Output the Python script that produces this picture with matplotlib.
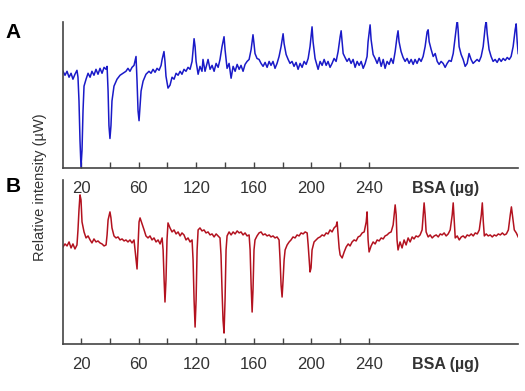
import numpy as np
import matplotlib
matplotlib.use("Agg")
import matplotlib.pyplot as plt

plt.rcParams['font.family'] = ['Liberation Sans', 'DejaVu Sans']

# trace A (blue): time axis in the same units as the tick positions, height above baseline of the panel
a_x = [7.5, 8.9, 10.3, 11.7, 13.1, 14.4, 15.8, 17.2, 17.9, 18.6, 19.3, 20.0, 20.7, 21.4, 22.1, 23.5, 24.9, 26.3,
       27.6, 29.0, 30.4, 31.8, 33.2, 34.6, 36.0, 37.4, 38.1, 38.8, 39.4, 40.1, 40.8, 41.5, 42.9, 45.0, 47.1, 49.2,
       51.2, 52.6, 54.0, 55.4, 56.8, 58.2, 58.9, 59.6, 60.3, 61.0, 61.7, 63.1, 65.1, 67.2, 68.6, 70.0, 71.4, 72.8,
       74.2, 75.6, 76.3, 77.6, 78.3, 79.0, 80.4, 81.8, 83.2, 84.6, 86.0, 87.4, 88.8, 90.1, 91.5, 92.9, 94.3, 95.7,
       97.1, 98.5, 99.2, 99.9, 101.3, 102.6, 104.0, 104.7, 106.1, 107.5, 108.2, 109.6, 111.0, 112.4, 113.8, 115.2,
       116.5, 117.9, 119.3, 120.0, 121.4, 122.8, 124.2, 125.6, 127.0, 128.4, 129.8, 131.1, 132.5, 133.9, 135.3,
       136.7, 138.1, 139.4, 140.1, 140.8, 142.2, 143.6, 145.0, 146.4, 147.8, 149.2, 150.6, 151.9, 153.3, 154.7,
       156.1, 157.5, 158.9, 160.3, 161.0, 162.4, 163.8, 165.1, 166.5, 167.9, 169.3, 170.7, 172.1, 173.5, 174.9,
       176.3, 177.7, 179.0, 180.4, 181.1, 182.5, 184.6, 186.0, 187.4, 188.8, 190.2, 191.5, 192.9, 194.3, 195.7,
       197.1, 198.5, 199.9, 200.6, 201.3, 202.0, 203.3, 204.7, 206.1, 207.5, 208.9, 210.3, 211.7, 213.1, 214.5,
       215.9, 217.3, 218.6, 219.3, 220.7, 221.4, 222.8, 224.2, 225.6, 227.0, 228.4, 229.8, 231.1, 232.5, 233.9,
       235.3, 236.7, 238.1, 239.4, 240.1, 240.8, 242.2, 243.6, 245.0, 246.4, 247.8, 249.2, 250.6, 251.9, 253.3,
       254.7, 256.1, 257.5, 258.9, 260.3, 261.0, 261.7, 263.1, 264.5, 265.9, 267.3, 268.6, 270.0, 271.4, 272.8,
       274.2, 275.6, 277.0, 278.4, 279.8, 281.2, 281.8, 282.5, 283.9, 285.3, 286.7, 288.1, 289.4, 290.8, 292.2,
       293.6, 295.0, 296.4, 297.8, 299.2, 300.6, 301.3, 302.0, 303.3, 304.7, 306.1, 307.5, 308.9, 310.3, 311.7,
       313.1, 314.5, 315.9, 317.3, 318.6, 320.0, 321.4, 322.1, 322.8, 323.5]
a_y = [98, 94, 98, 92, 96, 90, 95, 99, 92, 68, 28, 1, 18, 58, 83, 90, 96, 92,
       98, 94, 100, 95, 101, 96, 102, 100, 103, 78, 43, 30, 43, 68, 83, 90, 94, 96,
       98, 101, 98, 102, 104, 113, 88, 58, 48, 63, 78, 88, 95, 98, 96, 100, 97, 101,
       99, 104, 110, 118, 108, 93, 81, 84, 92, 90, 96, 94, 98, 95, 100, 98, 102, 100,
       108, 131, 123, 108, 95, 103, 98, 110, 98, 106, 110, 100, 104, 98, 106, 102,
       110, 123, 133, 120, 101, 106, 91, 103, 98, 105, 100, 104, 98, 105, 108,
       110, 120, 135, 126, 116, 111, 110, 106, 103, 107, 102, 108, 104, 108, 101,
       106, 113, 123, 136, 126, 115, 110, 106, 108, 103, 107, 100, 106, 102, 108,
       105, 111, 123, 143, 128, 111, 100, 108, 104, 110, 104, 108, 102, 106, 111,
       108, 118, 133, 139, 128, 116, 112, 108, 111, 106, 110, 102, 108, 104, 108,
       101, 106, 113, 128, 145, 130, 115, 111, 106, 112, 103, 110, 101, 108, 105,
       111, 106, 118, 133, 139, 128, 118, 112, 108, 111, 106, 110, 105, 110, 106,
       111, 108, 113, 123, 138, 140, 128, 120, 113, 116, 108, 105, 108, 106, 102,
       106, 109, 108, 116, 133, 150, 140, 123, 115, 110, 103, 106, 116, 110, 106,
       108, 110, 108, 113, 123, 143, 149, 136, 120, 113, 108, 110, 107, 111, 108,
       111, 109, 112, 110, 113, 123, 140, 146, 128, 116]

# trace B (red)
b_x = [7.5, 8.9, 10.3, 11.7, 13.1, 14.4, 15.8, 17.2, 17.9, 18.6, 19.3, 20.0, 20.7, 22.1, 23.5, 24.9, 26.3, 27.6,
       29.0, 30.4, 31.8, 33.2, 34.6, 36.0, 37.4, 38.1, 38.8, 40.1, 40.8, 41.5, 42.9, 44.3, 45.7, 47.1, 48.5, 49.9,
       51.2, 52.6, 54.0, 55.4, 56.8, 57.5, 58.2, 58.9, 59.6, 60.3, 61.0, 62.4, 63.8, 65.1, 66.5, 67.9, 69.3, 70.7,
       72.1, 73.5, 74.9, 76.3, 77.0, 77.7, 78.3, 79.0, 79.7, 80.4, 81.8, 83.2, 84.6, 86.0, 87.4, 88.8, 90.1, 91.5,
       92.9, 94.3, 95.7, 97.1, 97.8, 98.5, 99.2, 99.9, 100.6, 101.3, 102.6, 104.0, 105.4, 106.8, 108.2, 109.6,
       111.0, 112.4, 113.8, 115.2, 116.5, 117.2, 117.9, 118.6, 119.3, 120.0, 120.7, 121.4, 122.8, 124.2, 125.6,
       127.0, 128.4, 129.8, 131.1, 132.5, 133.9, 135.3, 136.7, 137.4, 138.1, 138.8, 139.4, 140.1, 140.8, 142.2,
       143.6, 145.0, 146.4, 147.8, 149.2, 150.6, 151.9, 153.3, 154.7, 156.1, 157.5, 158.2, 158.9, 159.6, 160.3,
       161.0, 161.7, 163.1, 164.5, 165.8, 167.2, 168.6, 170.0, 171.4, 172.8, 174.2, 175.6, 177.0, 177.7, 178.4,
       179.0, 179.7, 180.4, 181.8, 183.2, 184.6, 186.0, 187.4, 188.8, 190.2, 191.5, 192.9, 194.3, 195.7, 197.1,
       197.8, 198.5, 199.2, 199.9, 201.3, 202.7, 204.1, 205.5, 206.8, 208.2, 209.6, 211.0, 212.4, 213.8, 215.2,
       216.6, 218.0, 218.6, 219.3, 220.0, 221.4, 222.8, 224.2, 225.6, 227.0, 228.4, 229.8, 231.1, 232.5, 233.9,
       235.3, 236.7, 238.1, 238.8, 239.4, 240.1, 241.5, 242.9, 244.3, 245.7, 247.1, 248.5, 249.9, 251.2, 252.6,
       254.0, 255.4, 256.8, 258.2, 258.9, 259.6, 261.0, 262.4, 263.8, 265.2, 266.6, 268.0, 269.4, 270.7, 272.1,
       273.5, 274.9, 276.3, 277.7, 278.4, 279.1, 279.8, 281.2, 282.6, 284.0, 285.3, 286.7, 288.1, 289.5, 290.9,
       292.3, 293.7, 295.1, 296.5, 297.9, 298.6, 299.3, 300.0, 301.3, 302.7, 304.1, 305.5, 306.9, 308.3, 309.7,
       311.1, 312.5, 313.9, 315.3, 316.7, 318.0, 318.8, 319.5, 320.8, 322.2, 323.5]
b_y = [97, 100, 98, 102, 96, 100, 95, 99, 114, 134, 149, 144, 122, 112, 106, 108, 104, 101,
       105, 102, 103, 101, 100, 98, 99, 109, 124, 132, 126, 116, 108, 106, 107, 104, 105, 103,
       104, 102, 104, 101, 104, 94, 84, 75, 99, 122, 126, 120, 114, 108, 106, 108, 104, 106,
       102, 104, 100, 106, 94, 64, 42, 64, 104, 121, 116, 112, 114, 110, 112, 108, 111, 109,
       104, 106, 102, 104, 84, 44, 17, 44, 94, 114, 116, 113, 114, 111, 112, 109,
       110, 107, 110, 108, 106, 89, 54, 24, 11, 44, 94, 108, 112, 109, 112,
       110, 113, 111, 112, 109, 111, 108, 109, 94, 59, 32, 54, 94, 104, 108,
       111, 112, 109, 110, 108, 109, 107, 108, 106, 107, 104, 84, 59, 47, 64,
       84, 94, 99, 102, 104, 107, 106, 109, 108, 111, 110, 112, 111, 99, 84,
       72, 76, 94, 102, 104, 106, 107, 109, 108, 111, 110, 114, 112, 116, 118,
       122, 109, 96, 89, 86, 92, 97, 100, 98, 102, 104, 103, 107, 108, 111,
       112, 122, 132, 104, 92, 98, 102, 100, 104, 103, 106, 105, 108, 109, 111,
       112, 119, 139, 129, 104, 94, 102, 96, 104, 99, 106, 102, 107, 105, 108,
       107, 109, 114, 141, 129, 112, 107, 109, 106, 108, 109, 107, 110, 109, 111,
       108, 110, 114, 129, 141, 124, 106, 108, 104, 107, 108, 106, 109, 108, 110,
       108, 111, 110, 114, 129, 141, 122, 108, 110, 108, 109, 107, 109, 108, 110,
       109, 111, 109, 110, 114, 129, 137, 129, 114, 111, 107]

tick_pos = [20, 40, 60, 80, 100, 120, 140, 160, 180, 200, 220]
tick_lbl = ['20', '', '60', '', '120', '', '160', '', '200', '', '240']

fig = plt.figure(figsize=(5.25, 3.91), dpi=100)
ax1 = fig.add_axes([0.12, 0.570, 0.867, 0.374])
ax2 = fig.add_axes([0.12, 0.120, 0.867, 0.420])

spine_col = '#444444'
for ax, xs, ys, col, top in [(ax1, a_x, a_y, '#1a1ac8', 148), (ax2, b_x, b_y, '#b3121f', 164)]:
    ax.plot(xs, ys, color=col, lw=1.1)
    ax.set_xlim(7.5, 323.5)
    ax.set_ylim(0, top)
    for s in ['top', 'right']:
        ax.spines[s].set_visible(False)
    for s in ['left', 'bottom']:
        ax.spines[s].set_color(spine_col)
        ax.spines[s].set_linewidth(1.2)
    ax.set_yticks([])
    ax.set_xticks(tick_pos)
    ax.set_xticklabels(tick_lbl)
    ax.tick_params(axis='x', direction='in', length=4, width=1, color=spine_col,
                   pad=9, labelsize=12, labelcolor='#333333')
    ax.annotate('BSA (µg)', xy=(273, 0), xycoords=('data', 'axes fraction'),
                xytext=(0, -9), textcoords='offset points', ha='center', va='top',
                fontsize=11.5, fontweight='bold', color='#333333')
    ax.set_facecolor('none')

fig.text(0.076, 0.52, 'Relative intensity (µW)', rotation=90, ha='center', va='center',
         fontsize=10.5, color='#333333')
fig.text(0.025, 0.918, 'A', ha='center', va='center', fontsize=15, fontweight='bold')
fig.text(0.025, 0.522, 'B', ha='center', va='center', fontsize=15, fontweight='bold')

fig.savefig('out.png', dpi=100)
